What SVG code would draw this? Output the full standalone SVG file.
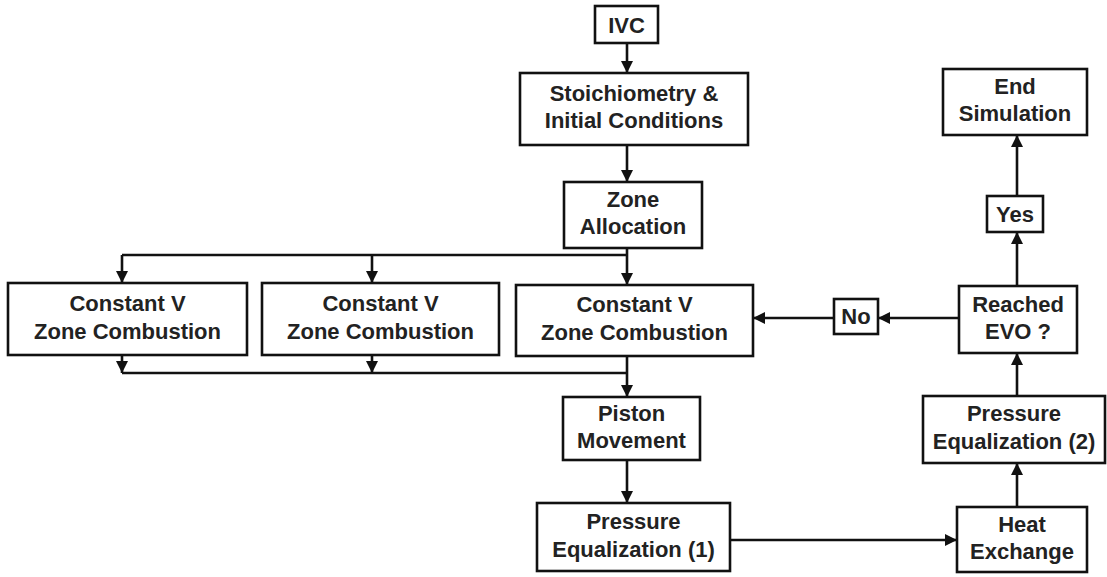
<svg xmlns="http://www.w3.org/2000/svg" width="1107" height="577" viewBox="0 0 1107 577">
  <style>
    .box { fill: #ffffff; stroke: #111111; stroke-width: 2.6; }
    .lbl { font-family: "Liberation Sans", Arial, sans-serif; font-weight: bold; font-size: 22px; fill: #222222; text-anchor: middle; }
    .wire { fill: none; stroke: #111111; stroke-width: 2.6; }
    .arrow { fill: none; stroke: #111111; stroke-width: 2.6; marker-end: url(#head); }
  </style>
  <defs>
    <marker id="head" markerUnits="userSpaceOnUse" markerWidth="13" markerHeight="12" refX="12" refY="6" orient="auto">
      <path d="M0,0 L12,6 L0,12 z" fill="#111111"/>
    </marker>
  </defs>
  <rect width="1107" height="577" fill="#ffffff"/>

  <!-- connectors -->
  <g id="connectors">
    <path class="arrow" d="M627,43 V73"/>
    <path class="arrow" d="M627,145 V182"/>
    <path class="arrow" d="M627,248 V285"/>
    <path class="wire" d="M122,255 H627"/>
    <path class="arrow" d="M122,255 V283"/>
    <path class="arrow" d="M372,255 V283"/>
    <path class="arrow" d="M122,355 V373"/>
    <path class="arrow" d="M372,355 V373"/>
    <path class="wire" d="M122,373 H627"/>
    <path class="arrow" d="M627,356 V397"/>
    <path class="arrow" d="M627,460 V503"/>
    <path class="arrow" d="M730,540 H957"/>
    <path class="arrow" d="M1017,507 V463"/>
    <path class="arrow" d="M1017,396 V353"/>
    <path class="arrow" d="M1017,286 V232"/>
    <path class="arrow" d="M1017,196 V135"/>
    <path class="arrow" d="M959,318 H878"/>
    <path class="arrow" d="M834,318 H753"/>
  </g>

  <!-- nodes -->
  <g id="ivc">
    <rect class="box" x="595" y="6" width="63" height="37"/>
    <text class="lbl" x="626.5" y="33">IVC</text>
  </g>
  <g id="stoichiometry">
    <rect class="box" x="520" y="73" width="228" height="72"/>
    <text class="lbl" x="634" y="101">Stoichiometry &amp;</text>
    <text class="lbl" x="634" y="128">Initial Conditions</text>
  </g>
  <g id="zone-allocation">
    <rect class="box" x="564" y="182" width="138" height="66"/>
    <text class="lbl" x="633" y="207">Zone</text>
    <text class="lbl" x="633" y="234">Allocation</text>
  </g>
  <g id="combustion-1">
    <rect class="box" x="8" y="283" width="239" height="72"/>
    <text class="lbl" x="127.5" y="311">Constant V</text>
    <text class="lbl" x="127.5" y="339">Zone Combustion</text>
  </g>
  <g id="combustion-2">
    <rect class="box" x="262" y="283" width="237" height="72"/>
    <text class="lbl" x="380.5" y="311">Constant V</text>
    <text class="lbl" x="380.5" y="339">Zone Combustion</text>
  </g>
  <g id="combustion-3">
    <rect class="box" x="516" y="285" width="237" height="71"/>
    <text class="lbl" x="634.5" y="312">Constant V</text>
    <text class="lbl" x="634.5" y="340">Zone Combustion</text>
  </g>
  <g id="no">
    <rect class="box" x="834" y="299" width="44" height="35"/>
    <text class="lbl" x="856" y="324">No</text>
  </g>
  <g id="reached-evo">
    <rect class="box" x="959" y="286" width="118" height="67"/>
    <text class="lbl" x="1018" y="312">Reached</text>
    <text class="lbl" x="1018" y="339">EVO ?</text>
  </g>
  <g id="yes">
    <rect class="box" x="987" y="196" width="56" height="36"/>
    <text class="lbl" x="1015" y="222">Yes</text>
  </g>
  <g id="end-simulation">
    <rect class="box" x="943" y="69" width="144" height="66"/>
    <text class="lbl" x="1015" y="94">End</text>
    <text class="lbl" x="1015" y="121">Simulation</text>
  </g>
  <g id="piston-movement">
    <rect class="box" x="563" y="397" width="137" height="63"/>
    <text class="lbl" x="631.5" y="421">Piston</text>
    <text class="lbl" x="631.5" y="448">Movement</text>
  </g>
  <g id="pressure-eq-1">
    <rect class="box" x="537" y="503" width="193" height="68"/>
    <text class="lbl" x="633.5" y="529">Pressure</text>
    <text class="lbl" x="633.5" y="557">Equalization (1)</text>
  </g>
  <g id="heat-exchange">
    <rect class="box" x="957" y="507" width="130" height="65"/>
    <text class="lbl" x="1022" y="532">Heat</text>
    <text class="lbl" x="1022" y="559">Exchange</text>
  </g>
  <g id="pressure-eq-2">
    <rect class="box" x="923" y="396" width="182" height="67"/>
    <text class="lbl" x="1014" y="421">Pressure</text>
    <text class="lbl" x="1014" y="449">Equalization (2)</text>
  </g>
</svg>
